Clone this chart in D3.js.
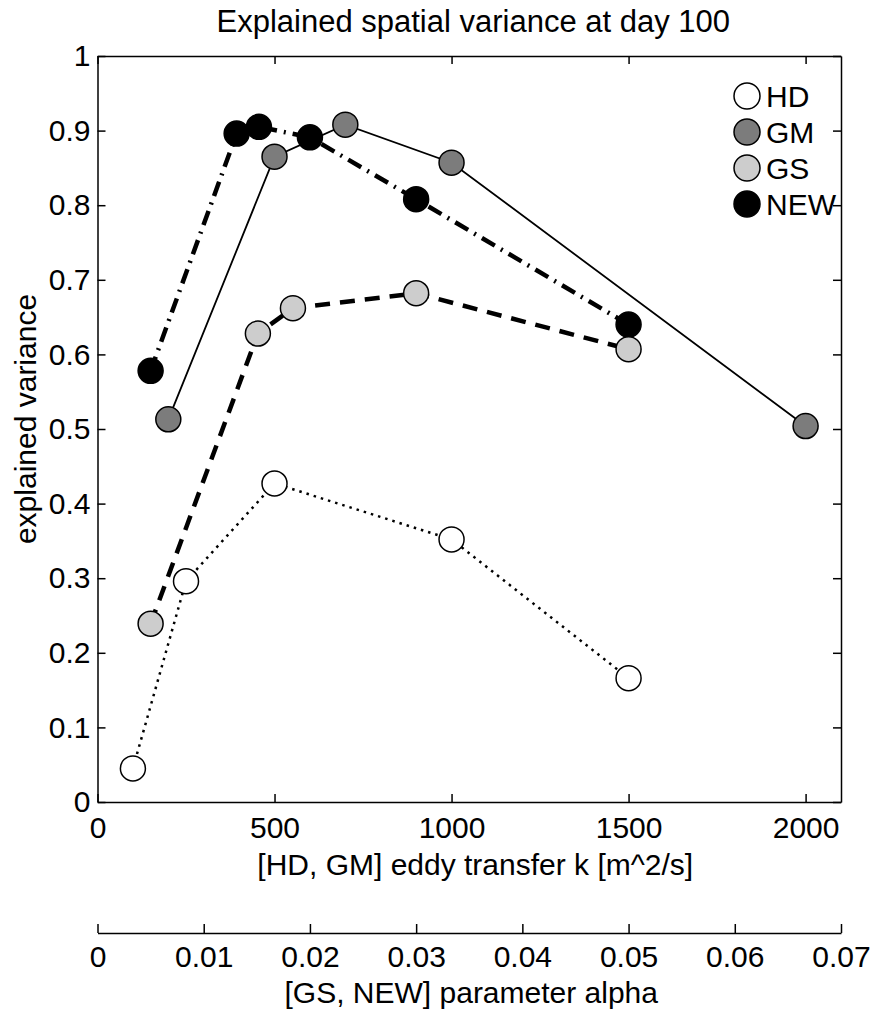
<!DOCTYPE html>
<html>
<head>
<meta charset="utf-8">
<script src="https://cdn.jsdelivr.net/npm/d3@7"></script>
<style>
  body { margin: 0; background: #fff; }
  svg text { font-family: "Liberation Sans", Arial, Helvetica, sans-serif; fill: #000; }
</style>
</head>
<body>
<div id="display"><svg width="873" height="1013"></svg></div>
<script>
// series: HD and GM are on the k axis, GS and NEW on the alpha axis
var hdK = [100, 250, 500, 1000, 1500];
var hdV = [0.045, 0.296, 0.427, 0.352, 0.166];
var gmK = [200, 500, 700, 1000, 2000];
var gmV = [0.513, 0.865, 0.908, 0.857, 0.504];
var gsAlpha = [0.005, 0.0151, 0.0184, 0.030, 0.050];
var gsV = [0.239, 0.628, 0.662, 0.682, 0.607];
var newAlpha = [0.005, 0.0131, 0.0152, 0.020, 0.030, 0.050];
var newV = [0.578, 0.896, 0.905, 0.891, 0.808, 0.640];

var kTicks = [0, 500, 1000, 1500, 2000];
var alphaTicks = [0, 0.01, 0.02, 0.03, 0.04, 0.05, 0.06, 0.07];
var yTicks = [0, 0.1, 0.2, 0.3, 0.4, 0.5, 0.6, 0.7, 0.8, 0.9, 1];
var legendNames = ["HD", "GM", "GS", "NEW"];

function draw() {
    var fs = 30;
    var pl = 97.5, pr = 841, pt = 56, pb = 802, axis2Y = 933;

    var svg = d3.select("#display svg");
    var x = d3.scaleLinear().domain([0, 2100]).range([pl, pr]);
    var xa = d3.scaleLinear().domain([0, 0.07]).range([pl, pr]);
    var y = d3.scaleLinear().domain([0, 1]).range([pb, pt]);

    function fmt(d) { return d === 0 ? "0" : String(+d.toFixed(2)); }

    // axes (matlab style, ticks inward)
    var gx = svg.append("g").attr("transform", "translate(0," + pb + ")")
	.call(d3.axisBottom(x).tickValues(kTicks).tickFormat(fmt).tickSizeInner(-8).tickSizeOuter(0).tickPadding(15));
    var gy = svg.append("g").attr("transform", "translate(" + pl + ",0)")
	.call(d3.axisLeft(y).tickValues(yTicks).tickFormat(fmt).tickSizeInner(-8).tickSizeOuter(0).tickPadding(7));
    var gt = svg.append("g").attr("transform", "translate(0," + pt + ")")
	.call(d3.axisTop(x).tickValues(kTicks).tickSizeInner(-8).tickSizeOuter(0).tickFormat(""));
    var gr = svg.append("g").attr("transform", "translate(" + pr + ",0)")
	.call(d3.axisRight(y).tickValues(yTicks).tickSizeInner(-8).tickSizeOuter(0).tickFormat(""));
    var ga = svg.append("g").attr("transform", "translate(0," + axis2Y + ")")
	.call(d3.axisBottom(xa).tickValues(alphaTicks).tickFormat(fmt).tickSizeInner(-9).tickSizeOuter(0).tickPadding(13));

    [gx, gy, gt, gr, ga].forEach(function(g) {
	g.attr("font-size", fs).attr("font-family", null);
	g.selectAll("path, line").attr("stroke", "#000").attr("stroke-width", 1.5);
    });

    // titles
    svg.append("text").text("Explained spatial variance at day 100")
	.attr("x", (pl + pr) / 2 + 4).attr("y", 32)
	.attr("text-anchor", "middle").attr("font-size", 31);
    svg.append("text").text("explained variance")
	.attr("transform", "translate(36,419) rotate(-90)")
	.attr("text-anchor", "middle").attr("font-size", fs);
    svg.append("text").text("[HD, GM] eddy transfer k [m^2/s]")
	.attr("x", (pl + pr) / 2 + 6).attr("y", 875)
	.attr("text-anchor", "middle").attr("font-size", fs);
    svg.append("text").text("[GS, NEW] parameter alpha")
	.attr("x", (pl + pr) / 2 + 2).attr("y", 1003)
	.attr("text-anchor", "middle").attr("font-size", fs);

    var series = [
	{ name: "HD",  xs: hdK,      ys: hdV,  sx: x,  fill: "#fff",    dash: "2.5,5",    w: 2.5 },
	{ name: "GM",  xs: gmK,      ys: gmV,  sx: x,  fill: "#7c7c7c", dash: null,       w: 1.8 },
	{ name: "NEW", xs: newAlpha, ys: newV, sx: xa, fill: "#000",    dash: "15,7,2,7", w: 4.5 },
	{ name: "GS",  xs: gsAlpha,  ys: gsV,  sx: xa, fill: "#cdcdcd", dash: "15,10",    w: 4.5 }
    ];

    var line = d3.line();
    series.forEach(function(s) {
	var pts = s.xs.map(function(v, i) { return [s.sx(v), y(s.ys[i])]; });
	svg.append("path").attr("d", line(pts))
	    .attr("fill", "none").attr("stroke", "#000")
	    .attr("stroke-width", s.w)
	    .attr("stroke-dasharray", s.dash);
    });
    series.forEach(function(s) {
	svg.append("g").selectAll("circle").data(s.xs).enter().append("circle")
	    .attr("cx", function(d) { return s.sx(d); })
	    .attr("cy", function(d, i) { return y(s.ys[i]); })
	    .attr("r", 12.5)
	    .attr("fill", s.fill).attr("stroke", "#000").attr("stroke-width", 1.5);
    });

    // legend
    var fills = { HD: "#fff", GM: "#7c7c7c", GS: "#cdcdcd", NEW: "#000" };
    var lg = svg.append("g");
    legendNames.forEach(function(n, i) {
	var cy = 96 + i * 36;
	lg.append("circle").attr("cx", 747).attr("cy", cy).attr("r", 13)
	    .attr("fill", fills[n]).attr("stroke", "#000").attr("stroke-width", 1.5);
	lg.append("text").text(n).attr("x", 766).attr("y", cy + 11)
	    .attr("font-size", fs);
    });
}
draw();
</script>
</body>
</html>
